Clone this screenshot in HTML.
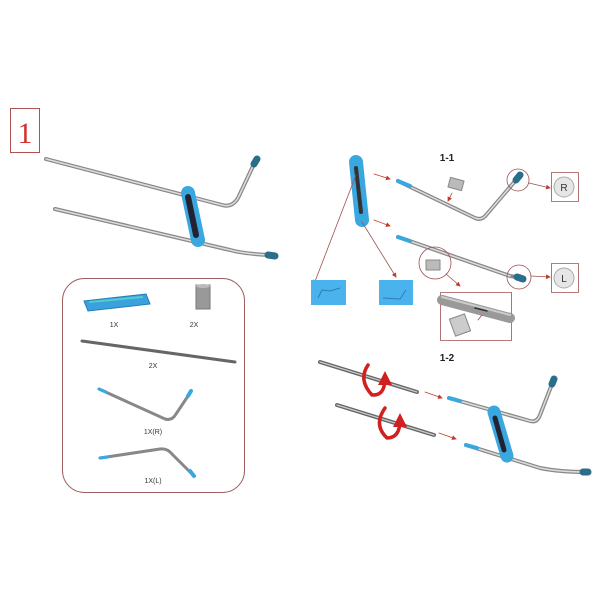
<!DOCTYPE html>
<html><head><meta charset="utf-8"><style>
html,body{margin:0;padding:0;background:#fff;}
svg{display:block;}
text{font-family:"Liberation Sans",sans-serif;}
</style></head><body>
<svg width="600" height="600" viewBox="0 0 600 600" xmlns="http://www.w3.org/2000/svg">
<defs>
<marker id="ar" markerWidth="6" markerHeight="6" refX="5" refY="3" orient="auto"><path d="M0,0 L6,3 L0,6z" fill="#c0392b"/></marker>
<marker id="rr" markerWidth="4" markerHeight="4" refX="2" refY="2" orient="auto"><path d="M0,0 L4,2 L0,4z" fill="#d02020"/></marker>
</defs>
<rect x="10.5" y="108.5" width="29" height="44" fill="none" stroke="#b05050" stroke-width="1"/>
<text x="25" y="143" font-size="30" fill="#d03030" text-anchor="middle" style="font-family:'Liberation Serif',serif">1</text>

<g fill="none" stroke-linecap="round" stroke-linejoin="round">
<path d="M46,159 L222,205 Q232,208 238,198 L254,164" stroke="#888" stroke-width="4"/>
<path d="M46,159 L222,205 Q232,208 238,198 L254,164" stroke="#ddd" stroke-width="1.5"/>
<path d="M55,209 L230,250 Q245,254 270,255" stroke="#888" stroke-width="4"/>
<path d="M55,209 L230,250 Q245,254 270,255" stroke="#ddd" stroke-width="1.5"/>
<line x1="254" y1="164" x2="257" y2="159" stroke="#2a6e8a" stroke-width="7"/>
<line x1="268" y1="255" x2="275" y2="256" stroke="#2a6e8a" stroke-width="7"/>
<line x1="188" y1="193" x2="198" y2="240" stroke="#3aa8e0" stroke-width="14"/>
<line x1="188" y1="197" x2="196" y2="235" stroke="#223" stroke-width="6"/>
</g>

<rect x="62.5" y="278.5" width="182" height="214" rx="22" fill="none" stroke="#a06060" stroke-width="1"/>
<g stroke-linecap="round" fill="none">
<polygon points="84,301 146,294 150,304 88,311" fill="#3aa0de" stroke="#1f7fb8"/>
<line x1="90" y1="302" x2="142" y2="297" stroke="#5cc" stroke-width="2"/>
<rect x="196" y="285" width="14" height="24" fill="#999" stroke="#777"/>
<ellipse cx="203" cy="286" rx="7" ry="2" fill="#bbb"/>
<line x1="82" y1="341" x2="235" y2="362" stroke="#666" stroke-width="3"/>
<path d="M99,389 L165,419 Q172,421 176,414 L190,393" stroke="#888" stroke-width="3"/>
<line x1="99" y1="389" x2="106" y2="392" stroke="#3aa8e0" stroke-width="3"/>
<line x1="188" y1="396" x2="191" y2="391" stroke="#3aa8e0" stroke-width="4"/>
<path d="M100,458 L160,449 Q167,448 172,454 L192,474" stroke="#888" stroke-width="3"/>
<line x1="100" y1="458" x2="108" y2="457" stroke="#3aa8e0" stroke-width="3"/>
<line x1="190" y1="471" x2="194" y2="476" stroke="#3aa8e0" stroke-width="4"/>
</g>
<g font-size="7" fill="#333" text-anchor="middle">
<text x="114" y="327">1X</text><text x="194" y="327">2X</text>
<text x="153" y="368">2X</text><text x="153" y="434">1X(R)</text><text x="153" y="483">1X(L)</text>
</g>

<text x="447" y="161" font-size="10" font-weight="bold" text-anchor="middle" fill="#222">1-1</text>
<g fill="none" stroke-linecap="round" stroke-linejoin="round">
<line x1="356" y1="162" x2="362" y2="220" stroke="#3aa8e0" stroke-width="14"/>
<line x1="356" y1="168" x2="361" y2="212" stroke="#333" stroke-width="4"/>
<line x1="356" y1="175" x2="314" y2="284" stroke="#a05050" stroke-width="0.8" marker-end="url(#ar)"/>
<line x1="362" y1="222" x2="396" y2="277" stroke="#a05050" stroke-width="0.8" marker-end="url(#ar)"/>
<line x1="374" y1="174" x2="390" y2="179" stroke="#c0392b" stroke-width="0.8" marker-end="url(#ar)"/>
<line x1="374" y1="220" x2="390" y2="226" stroke="#c0392b" stroke-width="0.8" marker-end="url(#ar)"/>
<path d="M398,181 L475,218 Q482,221 487,214 L516,180" stroke="#888" stroke-width="4"/>
<path d="M398,181 L475,218 Q482,221 487,214 L516,180" stroke="#ddd" stroke-width="1.5"/>
<line x1="398" y1="181" x2="410" y2="186" stroke="#3aa8e0" stroke-width="4"/>
<line x1="516" y1="180" x2="520" y2="175" stroke="#2a6e8a" stroke-width="7"/>
<path d="M398,237 L510,276 L522,278" stroke="#888" stroke-width="4"/>
<path d="M398,237 L510,276" stroke="#ddd" stroke-width="1.5"/>
<line x1="398" y1="237" x2="410" y2="241" stroke="#3aa8e0" stroke-width="4"/>
<line x1="517" y1="277" x2="523" y2="279" stroke="#2a6e8a" stroke-width="7"/>
<rect x="449" y="179" width="14" height="10" fill="#bbb" stroke="#888" transform="rotate(15 456 184)"/>
<line x1="452" y1="193" x2="448" y2="201" stroke="#c0392b" stroke-width="0.8" marker-end="url(#ar)"/>
<circle cx="518" cy="180" r="11" stroke="#a05050" stroke-width="0.8"/>
<line x1="529" y1="183" x2="550" y2="188" stroke="#a05050" stroke-width="0.8" marker-end="url(#ar)"/>
<circle cx="435" cy="263" r="16" stroke="#a05050" stroke-width="0.8"/>
<rect x="426" y="260" width="14" height="10" fill="#bbb" stroke="#888"/>
<circle cx="519" cy="277" r="12" stroke="#a05050" stroke-width="0.8"/>
<line x1="531" y1="276" x2="550" y2="277" stroke="#a05050" stroke-width="0.8" marker-end="url(#ar)"/>
<line x1="446" y1="274" x2="460" y2="286" stroke="#a05050" stroke-width="0.8" marker-end="url(#ar)"/>
<rect x="551.5" y="172.5" width="27" height="29" stroke="#a05050" stroke-width="0.8"/>
<circle cx="564" cy="187" r="10" fill="#e6e6e6" stroke="#aaa"/>
<rect x="551.5" y="263.5" width="27" height="29" stroke="#a05050" stroke-width="0.8"/>
<circle cx="564" cy="278" r="10" fill="#e6e6e6" stroke="#aaa"/>
<rect x="440.5" y="292.5" width="71" height="48" stroke="#a05050" stroke-width="0.8"/>
<path d="M442,300 L510,318" stroke="#999" stroke-width="10"/>
<path d="M442,297 L510,315" stroke="#ccc" stroke-width="2"/>
<line x1="475" y1="308" x2="487" y2="311" stroke="#333" stroke-width="1.5"/>
<rect x="452" y="316" width="16" height="18" fill="#ccc" stroke="#888" transform="rotate(-20 460 325)"/>
<line x1="482" y1="315" x2="478" y2="320" stroke="#c0392b" stroke-width="0.8"/>
</g>
<text x="564" y="191" font-size="10" text-anchor="middle" fill="#333">R</text>
<text x="564" y="282" font-size="10" text-anchor="middle" fill="#333">L</text>
<rect x="311" y="280" width="35" height="25" fill="#4ab2ec"/>
<path d="M318,298 L322,290 L330,291 M330,291 L340,288" stroke="#2b7fb5" fill="none"/>
<rect x="379" y="280" width="34" height="25" fill="#4ab2ec"/>
<path d="M383,298 L400,299 L406,290" stroke="#2b7fb5" fill="none"/>

<text x="447" y="361" font-size="10" font-weight="bold" text-anchor="middle" fill="#222">1-2</text>
<g fill="none" stroke-linecap="round" stroke-linejoin="round">
<line x1="320" y1="362" x2="417" y2="392" stroke="#666" stroke-width="4"/>
<line x1="320" y1="362" x2="417" y2="392" stroke="#ccc" stroke-width="1.2"/>
<line x1="337" y1="405" x2="434" y2="435" stroke="#666" stroke-width="4"/>
<line x1="337" y1="405" x2="434" y2="435" stroke="#ccc" stroke-width="1.2"/>
<path d="M368,365 Q358,380 372,395 Q385,396 385,378" stroke="#d02020" stroke-width="3.5" marker-end="url(#rr)"/>
<path d="M385,408 Q373,425 387,438 Q400,438 400,420" stroke="#d02020" stroke-width="3.5" marker-end="url(#rr)"/>
<line x1="425" y1="392" x2="442" y2="398" stroke="#c0392b" stroke-width="0.8" marker-end="url(#ar)"/>
<line x1="439" y1="433" x2="456" y2="439" stroke="#c0392b" stroke-width="0.8" marker-end="url(#ar)"/>
<path d="M449,398 L530,421 Q537,423 540,415 L552,384" stroke="#888" stroke-width="4"/>
<path d="M449,398 L530,421 Q537,423 540,415 L552,384" stroke="#ddd" stroke-width="1.5"/>
<line x1="449" y1="398" x2="460" y2="401" stroke="#3aa8e0" stroke-width="4"/>
<line x1="552" y1="384" x2="554" y2="379" stroke="#2a6e8a" stroke-width="7"/>
<path d="M466,445 L540,468 Q560,472 586,472" stroke="#888" stroke-width="4"/>
<path d="M466,445 L540,468 Q560,472 586,472" stroke="#ddd" stroke-width="1.5"/>
<line x1="466" y1="445" x2="477" y2="448" stroke="#3aa8e0" stroke-width="4"/>
<line x1="583" y1="472" x2="588" y2="472" stroke="#2a6e8a" stroke-width="7"/>
<line x1="494" y1="412" x2="507" y2="456" stroke="#3aa8e0" stroke-width="13"/>
<line x1="495" y1="418" x2="504" y2="450" stroke="#223" stroke-width="5"/>
</g>
</svg>
</body></html>
